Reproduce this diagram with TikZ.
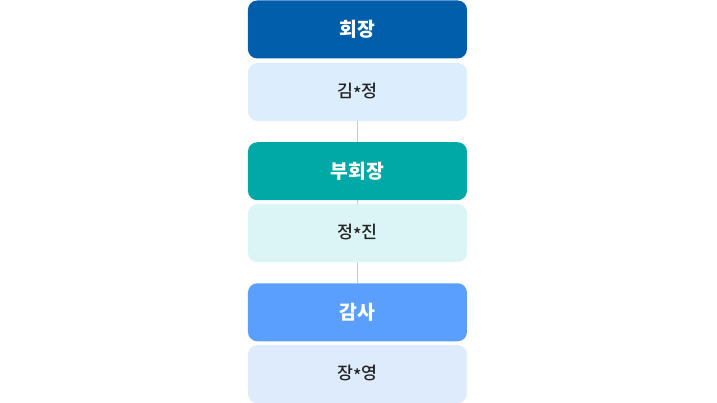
\documentclass[tikz,border=0pt]{standalone}
\usepackage{fontspec}
\setmainfont{Noto Sans CJK KR}
\newfontfamily\namefont{Noto Sans CJK KR}[UprightFont=* Medium]
\usepackage{tikz}
\usetikzlibrary{positioning,backgrounds}

\definecolor{headA}{RGB}{0,94,171}
\definecolor{bodyA}{RGB}{220,238,253}
\definecolor{headB}{RGB}{0,169,165}
\definecolor{bodyB}{RGB}{219,244,245}
\definecolor{headC}{RGB}{90,159,252}
\definecolor{bodyC}{RGB}{222,235,253}
\definecolor{linkgray}{RGB}{200,200,200}
\definecolor{namegray}{RGB}{34,34,34}

\newcommand{\midstar}{\raisebox{-0.3ex}{*}}

\tikzset{
  box/.style={minimum width=164.25pt, minimum height=43.5pt, rounded corners=7pt, inner sep=0pt},
  rolebox/.style={box, text=white, font=\fontsize{14.5}{17}\selectfont\bfseries},
  namebox/.style={box, text=namegray, font=\namefont\fontsize{13}{15}\selectfont},
  link/.style={draw=linkgray, line width=0.75pt}
}

\begin{document}
\begin{tikzpicture}
			\useasboundingbox (0,0) rectangle (537.75pt,-302.25pt);
			\node[rolebox, fill=headA] (chair) at (268.1pt,-22.1pt) {회장};
			\node[namebox, fill=bodyA, below=3pt of chair] (chairname) {김\midstar 정};
			\node[rolebox, fill=headB, below=15.5pt of chairname] (vice) {부회장};
			\node[namebox, fill=bodyB, below=2.5pt of vice] (vicename) {정\midstar 진};
			\node[rolebox, fill=headC, below=15.5pt of vicename] (audit) {감사};
			\node[namebox, fill=bodyC, below=2.5pt of audit] (auditname) {장\midstar 영};
			% connectors go behind the boxes
			\begin{scope}[on background layer]
			\draw[link] (chairname.south) -- (vicename.north);
			\draw[link] (vicename.south) -- (audit.north);
			\end{scope}
\end{tikzpicture}
\end{document}
